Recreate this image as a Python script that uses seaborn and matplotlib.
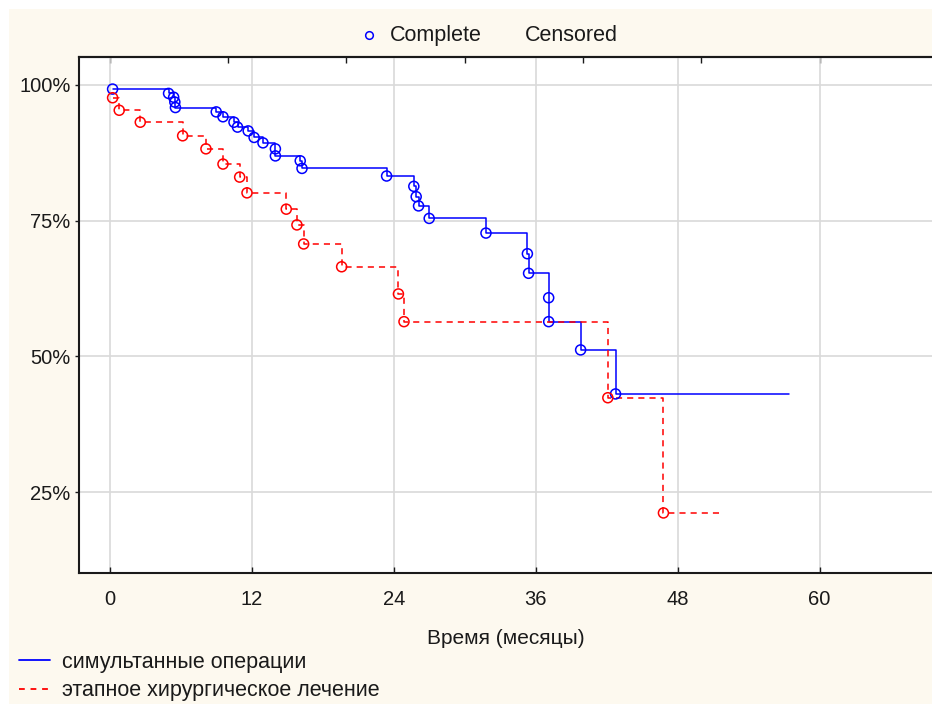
import numpy as np
import pandas as pd
import matplotlib
matplotlib.use("Agg")
import matplotlib.pyplot as plt
import seaborn as sns
from matplotlib.lines import Line2D
from matplotlib.patches import Rectangle
from matplotlib.ticker import FuncFormatter

# ---- data ----
blue_t = [0.24, 4.97, 5.40, 5.50, 5.55, 9.0, 9.57, 10.5, 10.8, 11.7, 12.2, 12.95,
          14.0, 14.0, 16.1, 16.25, 23.4, 25.7, 25.9, 26.1, 27.0, 31.8, 35.3, 35.4,
          37.1, 37.1, 39.8, 42.75]
blue_s = [99.2, 98.4, 97.7, 96.8, 95.8, 95.0, 94.1, 93.1, 92.2, 91.5, 90.3, 89.3,
          88.2, 86.9, 86.0, 84.6, 83.2, 81.3, 79.4, 77.7, 75.4, 72.7, 68.9, 65.3,
          60.8, 56.4, 51.2, 43.1]
blue_end = 57.4

red_t = [0.24, 0.8, 2.58, 6.16, 8.13, 9.57, 10.98, 11.6, 14.92, 15.82, 16.39, 19.6,
         24.4, 24.87, 42.1, 46.8]
red_s = [97.6, 95.3, 93.1, 90.6, 88.2, 85.4, 83.0, 80.1, 77.1, 74.2, 70.7, 66.5,
         61.5, 56.4, 42.4, 21.2]
red_end = 51.7

series_names = ["симультанные операции", "этапное хирургическое лечение"]
x_ticks = [0, 12, 24, 36, 48, 60]
top_ticks = [0, 10, 20, 30, 40, 50, 60]
y_ticks = [25, 50, 75, 100]
x_label = "Время (месяцы)"
top_legend = ["Complete", "Censored"]

BLUE = "#0000FF"
RED = "#FF0000"
TXT = "#1a1a1a"

sns.set_theme(style="white")
plt.rcParams["font.family"] = ["Liberation Sans", "DejaVu Sans"]
plt.rcParams["lines.scale_dashes"] = True

W, H = 932, 704
fig = plt.figure(figsize=(W / 100, H / 100), dpi=100, facecolor="white")
fig.patches.append(Rectangle((9 / W, 0), 1, 1 - 9 / H, transform=fig.transFigure,
                             facecolor="#FDF9EF", edgecolor="none", zorder=-10))

ax = fig.add_axes([79 / W, 1 - 573 / H, 1 - 79 / W, (573 - 57) / H])
ax.set_facecolor("white")

def step_frame(t, s, end):
    return pd.DataFrame({"t": list(t) + [end], "s": list(s) + [s[-1]]})

bdf = step_frame(blue_t, blue_s, blue_end)
rdf = step_frame(red_t, red_s, red_end)

sns.lineplot(data=bdf, x="t", y="s", ax=ax, estimator=None, sort=False,
             drawstyle="steps-post", color=BLUE, linewidth=1.1, zorder=3)
sns.lineplot(data=rdf, x="t", y="s", ax=ax, estimator=None, sort=False,
             drawstyle="steps-post", color=RED, linewidth=1.1, zorder=3)
ax.lines[-1].set_dashes((4.0, 3.3))

sns.scatterplot(x=blue_t, y=blue_s, ax=ax, marker="o", s=52, facecolors="none",
                edgecolor=BLUE, linewidth=1.1, zorder=4)
sns.scatterplot(x=red_t, y=red_s, ax=ax, marker="o", s=52, facecolors="none",
                edgecolor=RED, linewidth=1.1, zorder=4)

ax.set_xlim(-2.6, 69.5)
ax.set_ylim(10.15, 105.1)
ax.set_xticks(x_ticks)
ax.set_yticks(y_ticks)
ax.yaxis.set_major_formatter(FuncFormatter(lambda v, p: f"{v:.0f}%"))
ax.grid(True, color="#D9D9D9", linewidth=1.2, zorder=0)
ax.set_axisbelow(True)

for side in ["left", "bottom", "top"]:
    ax.spines[side].set_visible(True)
    ax.spines[side].set_color(TXT)
    ax.spines[side].set_linewidth(1.5)
ax.spines["right"].set_visible(False)

ax.tick_params(axis="x", direction="in", length=4, width=1, pad=12,
               labelsize=14.5, colors=TXT, bottom=True)
ax.tick_params(axis="y", direction="out", length=3, width=1, pad=3,
               labelsize=14.5, colors=TXT, left=True)
ax.set_xlabel(x_label, fontsize=15, labelpad=15, color=TXT)
ax.set_ylabel("")

sec = ax.secondary_xaxis("top")
sec.set_xticks(top_ticks)
sec.tick_params(direction="in", length=4, width=1, labeltop=False, colors=TXT)
sec.spines["top"].set_linewidth(1.5)

# top legend
fig.add_artist(Line2D([369 / W], [1 - 35 / H], marker="o", markersize=5.5,
                      markerfacecolor="none", markeredgecolor=BLUE,
                      markeredgewidth=1.1, transform=fig.transFigure))
fig.text(390 / W, 1 - 35.5 / H, top_legend[0], fontsize=15.5, va="center", ha="left",
         color=TXT)
fig.text(525 / W, 1 - 35.5 / H, top_legend[1], fontsize=15.5, va="center", ha="left",
         color=TXT)

# bottom legend
handles = [Line2D([], [], color=BLUE, linewidth=1.3),
           Line2D([], [], color=RED, linewidth=1.3, dashes=(3.2, 3.2))]
fig.legend(handles, series_names, loc="upper left",
           bbox_to_anchor=(19 / W, 1 - 652 / H), frameon=False, fontsize=15.5,
           handlelength=1.45, handletextpad=0.55, labelspacing=0.33,
           borderpad=0, borderaxespad=0, labelcolor=TXT)

fig.savefig("out.png", dpi=100, facecolor=fig.get_facecolor())
